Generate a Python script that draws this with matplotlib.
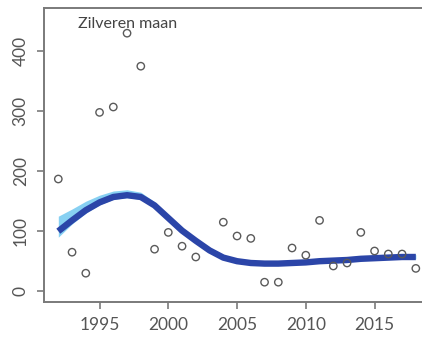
import matplotlib
matplotlib.use("Agg")
import matplotlib.pyplot as plt
import numpy as np

title = "Zilveren maan"
years = [1992, 1993, 1994, 1995, 1996, 1997, 1998, 1999, 2000, 2001, 2002,
         2004, 2005, 2006, 2007, 2008, 2009, 2010, 2011, 2012, 2013, 2014,
         2015, 2016, 2017, 2018]
counts = [187, 65, 30, 298, 307, 430, 375, 70, 98, 75, 57,
          115, 92, 88, 15, 15, 72, 60, 118, 42, 47, 98,
          67, 62, 62, 38]

trend_years = [1992, 1993, 1994, 1995, 1996, 1997, 1998, 1999, 2000, 2001,
               2002, 2003, 2004, 2005, 2006, 2007, 2008, 2009, 2010, 2011,
               2012, 2013, 2014, 2015, 2016, 2017, 2018]
trend = [100, 118, 135, 148, 157, 160, 157, 143, 122, 101,
         84, 68, 56, 50, 47, 46, 46, 47, 48, 50,
         51, 52, 54, 55, 56, 57, 57]
band_lo = [90, 112, 130, 144, 153, 156, 153, 140, 119, 98,
           81, 66, 54, 48, 45, 44, 44, 45, 46, 48,
           49, 50, 52, 53, 54, 55, 54]
band_hi = [125, 137, 150, 160, 167, 169, 165, 149, 126, 105,
           87, 71, 59, 53, 50, 49, 49, 50, 51, 53,
           54, 55, 57, 58, 59, 60, 61]

xticks = [1995, 2000, 2005, 2010, 2015]
yticks = [0, 100, 200, 300, 400]

plt.rcParams['font.family'] = ['Lato', 'DejaVu Sans']

fig = plt.figure(figsize=(4.22, 3.38), dpi=100, facecolor='white')
ax = fig.add_axes([44/422, 36/338, 1.0 - 44/422, (302-8)/338])

ax.fill_between(trend_years, band_lo, band_hi, color='#72c8f0', alpha=0.85, lw=0, zorder=2)
ax.plot(trend_years, trend, color='#2b45a8', lw=4.6, solid_capstyle='butt',
        solid_joinstyle='round', zorder=3)
ax.scatter(years, counts, s=28, facecolors='none', edgecolors='#5a5a5a', linewidths=1.0,
           zorder=4, clip_on=False)

ax.set_xlim(1990.96, 2018.45)
ax.set_ylim(-18, 472)
ax.set_xticks(xticks)
ax.set_yticks(yticks)
ax.set_xticklabels([str(t) for t in xticks])
ax.set_yticklabels([str(t) for t in yticks], rotation=90, va='center')

for s in ['left', 'bottom', 'top']:
    ax.spines[s].set_color('#7a7a7a')
    ax.spines[s].set_linewidth(1.4)
ax.spines['right'].set_visible(False)
ax.tick_params(axis='both', colors='#7a7a7a', length=5, width=1.2, labelsize=12.5,
               labelcolor='#555555')
ax.tick_params(axis='y', pad=6)
ax.tick_params(axis='x', pad=6)

ax.text(1993.4, 445, title, fontsize=11.5, color='#444444', va='center', ha='left', zorder=5)

fig.savefig("out.png", dpi=100, facecolor='white')
